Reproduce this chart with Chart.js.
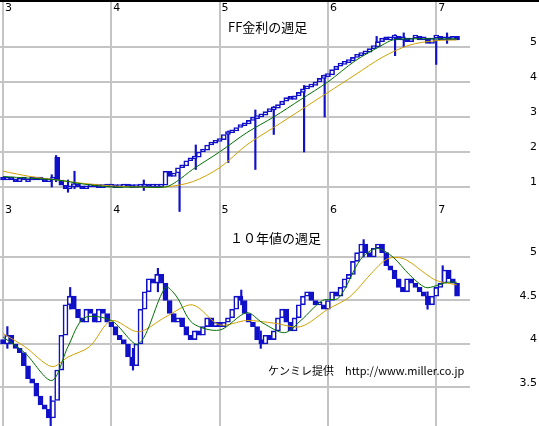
<!DOCTYPE html>
<html>
<head>
<meta charset="utf-8">
<script src="https://cdn.jsdelivr.net/npm/chart.js@4.4.1/dist/chart.umd.min.js"></script>
<style>
  body { margin: 0; background: #fff; }
  canvas { position: absolute; left: 0; }
  #top { top: 0; }
  #bottom { top: 213px; }
</style>
</head>
<body>
<canvas id="top" width="539" height="213"></canvas>
<canvas id="bottom" width="539" height="213"></canvas>
<script>
// biweekly candles, year index (3 = 2003) ... first candle at 3.0, step 1/26
const yearTicks = [3, 4, 5, 6, 7];

const ffOpen = [1.25,1.2,1.25,1.2,1.15,1.25,1.15,1.2,1.25,1.2,1.25,1.15,1.2,1.85,
  1.2,1.05,0.95,1.0,1.1,1.0,0.95,1.0,1.0,1.0,0.98,1.0,
  1.0,1.0,0.98,1.0,1.02,1.0,0.98,1.0,1.0,1.02,1.0,1.0,1.0,1.05,
  1.45,1.3,1.4,1.55,1.6,1.75,1.8,1.85,2.0,2.05,2.2,2.25,
  2.3,2.35,2.5,2.55,2.6,2.7,2.75,2.8,2.9,2.95,3.0,3.05,3.15,
  3.2,3.25,3.35,3.45,3.55,3.5,3.6,3.7,3.8,3.85,3.9,4.0,4.1,
  4.15,4.2,4.35,4.45,4.5,4.55,4.6,4.7,4.75,4.8,4.85,4.95,5.0,
  5.15,5.25,5.2,5.25,5.3,5.2,5.25,5.15,5.25,5.3,5.2,5.25,5.1,5.25,5.3,5.2,5.25,5.2,5.3];
const ffClose = [1.2,1.25,1.2,1.15,1.25,1.2,1.2,1.25,1.2,1.25,1.15,1.2,1.25,1.2,
  1.05,0.95,1.0,1.1,1.0,0.95,1.0,1.0,1.0,0.98,1.0,1.0,
  1.0,0.98,1.0,1.02,1.0,0.98,1.0,1.0,1.02,1.0,1.0,1.0,1.05,1.45,
  1.3,1.4,1.55,1.6,1.75,1.8,1.85,2.0,2.05,2.2,2.25,2.3,
  2.35,2.5,2.55,2.6,2.7,2.75,2.8,2.9,2.95,3.0,3.05,3.15,3.2,
  3.25,3.35,3.45,3.55,3.5,3.6,3.7,3.8,3.85,3.9,4.0,4.1,4.15,
  4.2,4.35,4.45,4.5,4.55,4.6,4.7,4.75,4.8,4.85,4.95,5.0,5.15,
  5.25,5.2,5.25,5.3,5.2,5.25,5.15,5.25,5.3,5.2,5.25,5.1,5.25,5.3,5.2,5.25,5.2,5.3,5.2];
const ffWickT  = [3.45,3.49,3.6,3.66,4.3,4.63,4.78,5.08,5.33,5.5,5.78,5.97,6.45,6.62,6.7,7.0,7.1];
const ffWickLo = [1.0,1.15,0.85,0.95,0.9,0.3,1.5,1.7,1.5,2.5,2.0,3.0,5.0,4.75,5.0,4.5,5.1];
const ffWickHi = [1.35,1.9,1.2,1.45,1.2,1.4,2.2,2.6,3.2,3.3,3.9,4.2,5.3,5.35,5.4,5.2,5.4];
const ffMaShortT = [3.0,3.25,3.5,3.75,4.0,4.25,4.5,4.6,4.75,5.0,5.25,5.5,5.75,6.0,6.25,6.5,6.6,6.75,7.0,7.19];
const ffMaShort  = [1.3,1.25,1.2,1.08,1.0,1.0,1.0,1.15,1.5,2.0,2.55,3.0,3.5,4.0,4.6,5.05,5.2,5.23,5.23,5.23];
const ffMaLongT = [3.0,3.25,3.5,3.75,4.0,4.25,4.5,4.75,5.0,5.25,5.5,5.75,6.0,6.25,6.5,6.75,7.0,7.19];
const ffMaLong  = [1.45,1.3,1.2,1.1,1.03,1.0,1.0,1.15,1.55,2.2,2.7,3.2,3.7,4.2,4.7,5.05,5.18,5.2];
const ffTicks = [1, 2, 3, 4, 5];

const tnOpen = [4.05,4.0,4.1,4.0,3.95,3.9,3.75,3.6,3.55,3.4,3.3,3.25,3.15,3.35,3.7,4.1,4.45,4.55,4.4,4.3,
  4.25,4.4,4.35,4.25,4.4,4.35,4.25,4.2,4.1,4.05,4.0,3.85,3.75,4.0,4.4,4.6,4.75,4.7,4.8,4.7,
  4.5,4.35,4.25,4.3,4.2,4.1,4.05,4.15,4.1,4.2,4.3,4.2,4.25,4.2,4.25,4.3,4.4,4.55,4.5,4.35,
  4.25,4.2,4.05,4.0,4.1,4.05,4.15,4.3,4.4,4.25,4.15,4.3,4.45,4.55,4.6,4.5,4.45,4.45,4.4,4.5,
  4.6,4.55,4.65,4.75,4.8,4.95,5.05,5.15,5.05,5.0,5.1,5.15,5.05,4.9,4.85,4.75,4.65,4.6,4.75,4.7,
  4.65,4.6,4.55,4.45,4.55,4.65,4.7,4.85,4.75,4.7];
const tnClose = [4.0,4.1,4.0,3.95,3.9,3.75,3.6,3.55,3.4,3.3,3.25,3.15,3.35,3.7,4.1,4.45,4.55,4.4,4.3,4.25,
  4.4,4.35,4.25,4.4,4.35,4.25,4.2,4.1,4.05,4.0,3.85,3.75,4.0,4.4,4.6,4.75,4.7,4.8,4.7,4.5,
  4.35,4.25,4.3,4.2,4.1,4.05,4.15,4.1,4.2,4.3,4.2,4.25,4.2,4.25,4.3,4.4,4.55,4.5,4.35,4.25,
  4.2,4.05,4.0,4.1,4.05,4.15,4.3,4.4,4.25,4.15,4.3,4.45,4.55,4.6,4.5,4.45,4.45,4.4,4.5,4.6,
  4.55,4.65,4.75,4.8,4.95,5.05,5.15,5.05,5.0,5.1,5.15,5.05,4.9,4.85,4.75,4.65,4.6,4.75,4.7,4.65,
  4.6,4.55,4.45,4.55,4.65,4.7,4.85,4.75,4.7,4.55];
const tnWickT  = [3.04,3.44,3.62,4.2,4.43,5.2,5.38,6.33,6.92,7.06];
const tnWickLo = [3.95,3.05,4.4,3.7,4.6,4.45,3.95,5.0,4.4,4.7];
const tnWickHi = [4.2,3.4,4.65,3.95,4.87,4.62,4.15,5.2,4.6,4.9];
const tnMaShortT = [3.0,3.2,3.45,3.6,3.75,4.0,4.25,4.5,4.6,4.75,5.0,5.25,5.4,5.6,5.75,5.95,6.1,6.3,6.45,6.6,6.75,6.9,7.0,7.1,7.19];
const tnMaShort  = [4.08,3.9,3.58,3.97,4.3,4.27,4.0,4.65,4.55,4.24,4.16,4.36,4.24,4.13,4.27,4.5,4.53,4.97,5.1,5.0,4.8,4.65,4.67,4.71,4.71];
const tnMaLongT = [3.0,3.2,3.45,3.6,3.8,4.0,4.25,4.5,4.75,5.0,5.25,5.5,5.75,6.0,6.2,6.4,6.55,6.7,6.9,7.0,7.19];
const tnMaLong  = [4.12,3.97,3.74,3.85,3.97,4.27,4.14,4.31,4.45,4.22,4.27,4.24,4.2,4.4,4.54,4.81,4.98,4.98,4.81,4.73,4.68];
const tnTicks = [3.5, 4, 4.5, 5];

const BLUE = '#1010c8';
const GRID = '#c4c4c4';

function candleSets(open, close, wt, wlo, whi) {
  const body = open.map((o, i) => ({ x: 3 + i / 26, y: [o, close[i]] }));
  const wick = wt.map((t, i) => ({ x: t, y: [wlo[i], whi[i]] }));
  return [
    { type: 'bar', data: wick, backgroundColor: BLUE, barThickness: 1.5, grouped: false, order: 3 },
    { type: 'bar', data: body, grouped: false, order: 2, barThickness: 5, minBarLength: 3,
      borderColor: BLUE, borderWidth: 1.6, borderSkipped: false,
      backgroundColor: body.map(p => p.y[1] < p.y[0] ? BLUE : '#ffffff') }
  ];
}

function maSet(t, v, color) {
  return { type: 'line', data: t.map((x, i) => ({ x: x, y: v[i] })), borderColor: color,
    borderWidth: 1, pointRadius: 0, tension: 0.3, order: 1 };
}

function labelPlugin(yTicks, texts, xLabelY) {
  return {
    id: 'labels',
    afterDraw(chart) {
      const ctx = chart.ctx;
      const xs = chart.scales.x, ys = chart.scales.y;
      ctx.save();
      ctx.fillStyle = '#000';
      ctx.font = '11px "DejaVu Sans", sans-serif';
      ctx.textBaseline = 'top';
      ctx.textAlign = 'left';
      yearTicks.forEach(v => {
        xLabelY.forEach(yy => ctx.fillText(String(v), xs.getPixelForValue(v) + 2, yy));
      });
      ctx.textAlign = 'right';
      ctx.textBaseline = 'bottom';
      yTicks.forEach(v => ctx.fillText(String(v), 537, ys.getPixelForValue(v) + 1));
      ctx.textAlign = 'left';
      ctx.textBaseline = 'top';
      texts.forEach(t => {
        ctx.font = t[3] + 'px "Noto Sans CJK JP", sans-serif';
        ctx.fillText(t[0], t[1], t[2]);
      });
      ctx.restore();
    }
  };
}

function makeChart(id, datasets, yMin, yMax, yTicks, texts, xLabelY, topLine) {
  const plugins = [labelPlugin(yTicks, texts, xLabelY)];
  if (topLine) {
    plugins.push({ id: 'topline', afterDraw(c) {
      c.ctx.fillStyle = '#000'; c.ctx.fillRect(0, 0, 539, 2);
    }});
  }
  return new Chart(document.getElementById(id), {
    data: { datasets: datasets },
    options: {
      responsive: false, animation: false, devicePixelRatio: 1,
      layout: { padding: 0 },
      plugins: { legend: { display: false }, tooltip: { enabled: false } },
      scales: {
        x: { type: 'linear', min: 2.972, max: 7.312, offset: false,
          grid: { color: GRID, lineWidth: 2, drawTicks: false, offset: false }, border: { display: false },
          ticks: { display: false },
          afterBuildTicks: s => { s.ticks = yearTicks.map(v => ({ value: v })); },
          afterFit: s => { s.height = 0; } },
        y: { position: 'right', min: yMin, max: yMax,
          grid: { color: GRID, lineWidth: 2, drawTicks: false }, border: { display: false },
          ticks: { display: false },
          afterBuildTicks: s => { s.ticks = yTicks.map(v => ({ value: v })); },
          afterFit: s => { s.width = 69; } }
      }
    },
    plugins: plugins
  });
}

makeChart('top',
  candleSets(ffOpen, ffClose, ffWickT, ffWickLo, ffWickHi)
    .concat([maSet(ffMaShortT, ffMaShort, '#007000'), maSet(ffMaLongT, ffMaLong, '#d0a000')]),
  0.257, 6.34, ffTicks, [['FF金利の週足', 228, 21, 13]], [3, 205], true);

makeChart('bottom',
  candleSets(tnOpen, tnClose, tnWickT, tnWickLo, tnWickHi)
    .concat([maSet(tnMaShortT, tnMaShort, '#007000'), maSet(tnMaLongT, tnMaLong, '#d0a000')]),
  3.057, 5.506, tnTicks,
  [['１０年値の週足', 230, 19, 13], ['ケンミレ提供　http://www.miller.co.jp', 268, 152, 11]], [-8], false);
</script>
</body>
</html>
